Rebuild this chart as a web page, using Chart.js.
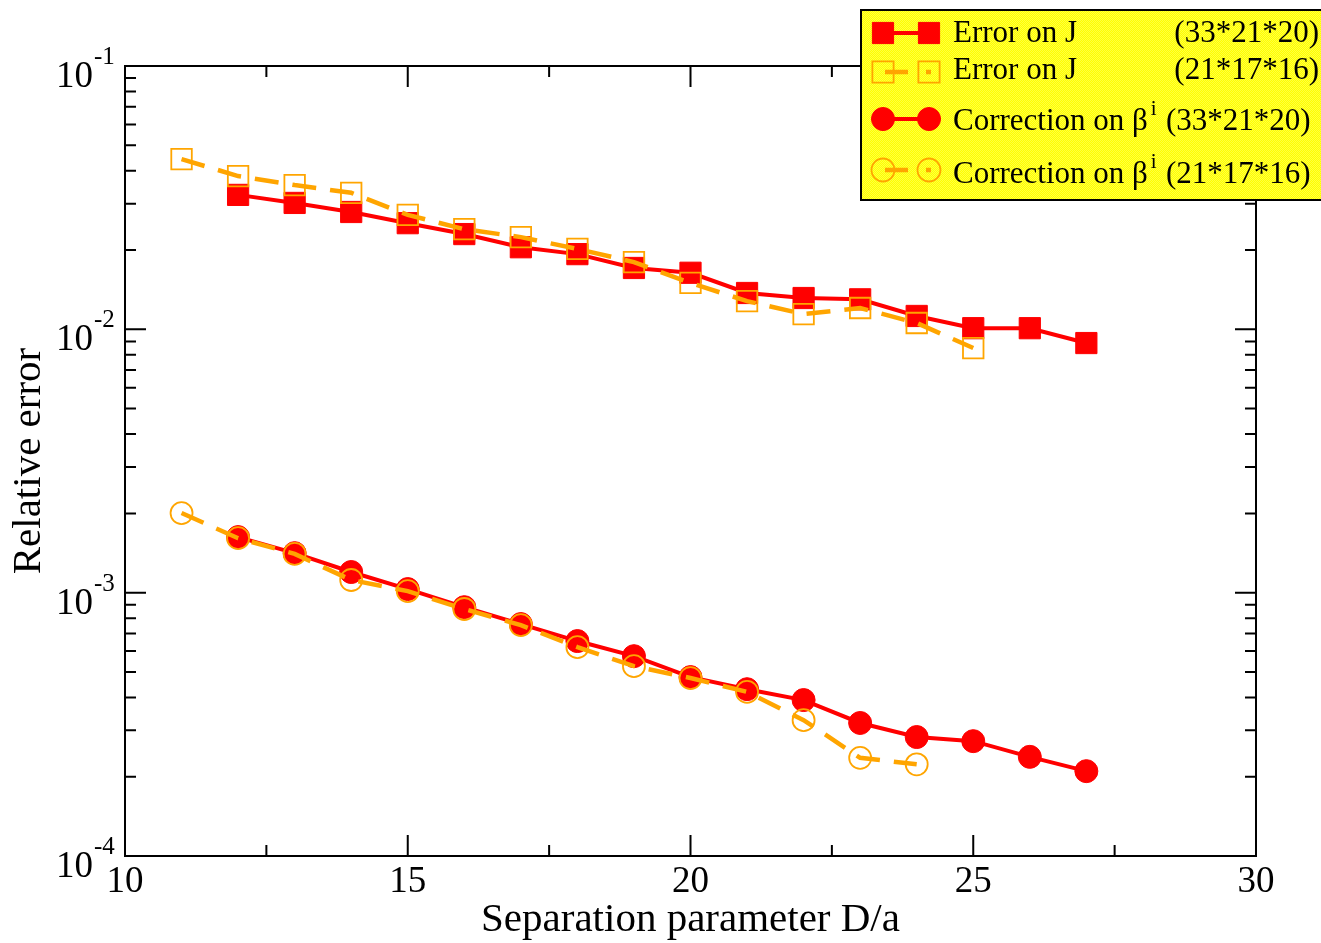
<!DOCTYPE html>
<html><head><meta charset="utf-8">
<script src="https://cdn.jsdelivr.net/npm/chart.js@4/dist/chart.umd.min.js"></script>
<style>html,body{margin:0;padding:0;background:#fff}canvas{display:block}</style>
</head><body>
<canvas id="c" width="1321" height="943"></canvas>
<script>
// ---- data ----
const xFine = [12,13,14,15,16,17,18,19,20,21,22,23,24,25,26,27];
const xCoarseJ = [11,12,13,14,15,16,17,18,19,20,21,22,23,24,25];
const xCoarseBeta = [11,12,13,14,15,16,17,18,19,20,21,22,23,24];
const errJFine = [0.0324,0.0302,0.0279,0.0253,0.0230,0.0205,0.0193,0.0171,0.0164,0.01374,0.01315,0.0130,0.01124,0.0101,0.0101,0.00887];
const errJCoarse = [0.0443,0.0382,0.0353,0.0330,0.0272,0.0240,0.0224,0.0202,0.0180,0.0150,0.0128,0.01143,0.01205,0.01057,0.00849];
const corrBetaFine = [0.001626,0.001413,0.001198,0.001032,0.000881,0.000760,0.000655,0.000574,0.000478,0.000430,0.000391,0.000320,0.000283,0.000273,0.000238,0.000210];
const corrBetaCoarse = [0.002006,0.00161,0.001403,0.001117,0.001014,0.000867,0.000753,0.000621,0.000526,0.000474,0.000420,0.000328,0.000236,0.000223];
const legendNames = ['Error on J','Error on J','Correction on β','Correction on β'];
const legendSups = ['','','i','i'];
const legendGrids = ['(33*21*20)','(21*17*16)','(33*21*20)','(21*17*16)'];
const xMajorTicks = [10,15,20,25,30];
const xMinorTicks = [12.5,17.5,22.5,27.5];
const yDecadeExponents = [-4,-3,-2,-1];

const RED = '#ff0000', ORANGE = '#ffa500';
const FONT = "'Liberation Serif', 'Times New Roman', serif";
const pts = (xs, ys) => xs.map((x,i)=>({x, y: ys[i]}));

const datasets = [
  {label: legendNames[0]+' '+legendGrids[0], data: pts(xFine, errJFine), borderColor: RED, backgroundColor: RED,
   borderWidth: 4, pointStyle: 'rect', pointRadius: 15, pointBorderWidth: 1, pointBorderColor: RED, pointBackgroundColor: RED, order: 1},
  {label: legendNames[1]+' '+legendGrids[1], data: pts(xCoarseJ, errJCoarse), borderColor: ORANGE, backgroundColor: 'rgba(0,0,0,0)',
   borderWidth: 4.5, borderDash: [24,14], pointStyle: 'rect', pointRadius: 14.5, pointBorderWidth: 1.8, pointBorderColor: ORANGE, pointBackgroundColor: 'rgba(0,0,0,0)', order: 0},
  {label: legendNames[2]+'i '+legendGrids[2], data: pts(xFine, corrBetaFine), borderColor: RED, backgroundColor: RED,
   borderWidth: 4, pointStyle: 'circle', pointRadius: 11.5, pointBorderWidth: 1, pointBorderColor: RED, pointBackgroundColor: RED, order: 1},
  {label: legendNames[3]+'i '+legendGrids[3], data: pts(xCoarseBeta, corrBetaCoarse), borderColor: ORANGE, backgroundColor: 'rgba(0,0,0,0)',
   borderWidth: 4.5, borderDash: [24,14], pointStyle: 'circle', pointRadius: 11, pointBorderWidth: 1.8, pointBorderColor: ORANGE, pointBackgroundColor: 'rgba(0,0,0,0)', order: 0}
];

function makePattern(ctx){
  const pc = document.createElement('canvas'); pc.width = 2; pc.height = 2;
  const p = pc.getContext('2d');
  p.fillStyle = '#ffff00'; p.fillRect(0,0,2,2);
  p.fillStyle = '#ffff40'; p.fillRect(0,0,1,1); p.fillRect(1,1,1,1);
  return ctx.createPattern(pc, 'repeat');
}

const framePlugin = {
  id: 'frame',
  afterDraw(chart){
    const {ctx, chartArea:{left,right,top,bottom}, scales:{x,y}} = chart;
    ctx.save();
    ctx.strokeStyle = '#000'; ctx.lineWidth = 2; ctx.lineCap = 'butt';
    ctx.strokeRect(left, top, right-left, bottom-top);
    const MAJ = 21, MIN = 11;
    ctx.beginPath();
    const xt = (v, L) => { const px = x.getPixelForValue(v); ctx.moveTo(px, bottom); ctx.lineTo(px, bottom-L); ctx.moveTo(px, top); ctx.lineTo(px, top+L); };
    xMajorTicks.forEach(v=>xt(v, MAJ));
    xMinorTicks.forEach(v=>xt(v, MIN));
    const yt = (v, L) => { const py = y.getPixelForValue(v); ctx.moveTo(left, py); ctx.lineTo(left+L, py); ctx.moveTo(right, py); ctx.lineTo(right-L, py); };
    yDecadeExponents.forEach(e=>{
      yt(Math.pow(10,e), MAJ);
      if (e < -1) for (let k=2;k<=9;k++) yt(k*Math.pow(10,e), MIN);
    });
    ctx.stroke();
    // y tick labels with superscript exponents
    ctx.fillStyle = '#000';
    yDecadeExponents.forEach(e=>{
      const py = y.getPixelForValue(Math.pow(10,e));
      ctx.font = '37px ' + FONT; ctx.textAlign = 'right'; ctx.textBaseline = 'alphabetic';
      ctx.fillText('10', left-32, py+21);
      ctx.font = '25px ' + FONT; ctx.textAlign = 'left';
      ctx.fillText(String(e), left-31, py-2);
    });
    // legend
    const bx = 861, by = 10, bw = 480, bh = 190;
    ctx.fillStyle = makePattern(ctx);
    ctx.fillRect(bx, by, bw, bh);
    ctx.strokeStyle = '#000'; ctx.lineWidth = 2;
    ctx.strokeRect(bx, by, bw, bh);
    const symY = [33, 72, 119, 170];
    const txtY = [42, 79, 130, 183];
    const sx1 = 883, sx2 = 929;
    chart.data.datasets.forEach((ds, i)=>{
      const sy = symY[i];
      ctx.save();
      ctx.strokeStyle = ds.borderColor; ctx.lineWidth = ds.borderWidth;
      ctx.beginPath();
      if (ds.borderDash) { ctx.moveTo(885, sy); ctx.lineTo(908, sy); ctx.moveTo(926, sy); ctx.lineTo(931, sy); }
      else { ctx.moveTo(sx1, sy); ctx.lineTo(sx2, sy); }
      ctx.stroke();
      ctx.fillStyle = ds.pointBackgroundColor; ctx.strokeStyle = ds.pointBorderColor; ctx.lineWidth = ds.pointBorderWidth;
      [sx1, sx2].forEach(sx=>{
        Chart.helpers.drawPoint(ctx, {pointStyle: ds.pointStyle, radius: ds.pointStyle==='rect' ? 15 : 11.5, rotation: 0, borderWidth: ds.pointBorderWidth}, sx, sy);
      });
      ctx.restore();
      ctx.fillStyle = '#000'; ctx.textBaseline = 'alphabetic';
      ctx.font = '31px ' + FONT; ctx.textAlign = 'left';
      ctx.fillText(legendNames[i], 953, txtY[i]);
      if (legendSups[i]) {
        const w = ctx.measureText(legendNames[i]).width;
        ctx.font = '21px ' + FONT;
        ctx.fillText(legendSups[i], 953 + w + 3, txtY[i] - 15);
        ctx.font = '31px ' + FONT;
        ctx.fillText(legendGrids[i], 1166, txtY[i]);
      } else {
        ctx.textAlign = 'right';
        ctx.fillText(legendGrids[i], 1319, txtY[i]);
      }
    });
    ctx.restore();
  }
};

new Chart(document.getElementById('c'), {
  type: 'line',
  data: { datasets },
  options: {
    responsive: false, animation: false, devicePixelRatio: 1,
    layout: { padding: { top: 66, right: 65, left: 0, bottom: 0 } },
    plugins: { legend: { display: false }, tooltip: { enabled: false } },
    elements: { line: { tension: 0 } },
    scales: {
      x: {
        type: 'linear', min: 10, max: 30,
        grid: { display: false, drawTicks: false }, border: { display: false },
        ticks: { stepSize: 5, padding: 4, color: '#000', maxRotation: 0, autoSkip: false,
                 font: { family: FONT, size: 37 } },
        title: { display: true, text: 'Separation parameter D/a', color: '#000',
                 font: { family: FONT, size: 41, lineHeight: 1.1 }, padding: 0 },
        afterFit: s => { s.height = 87; }
      },
      y: {
        type: 'logarithmic', min: 1e-4, max: 1e-1,
        grid: { display: false, drawTicks: false }, border: { display: false },
        ticks: { display: false },
        title: { display: true, text: 'Relative error', color: '#000',
                 font: { family: FONT, size: 41, lineHeight: 1.2 }, padding: { top: 5, bottom: 0 } },
        afterFit: s => { s.width = 125; }
      }
    }
  },
  plugins: [framePlugin]
});
</script>
</body></html>
